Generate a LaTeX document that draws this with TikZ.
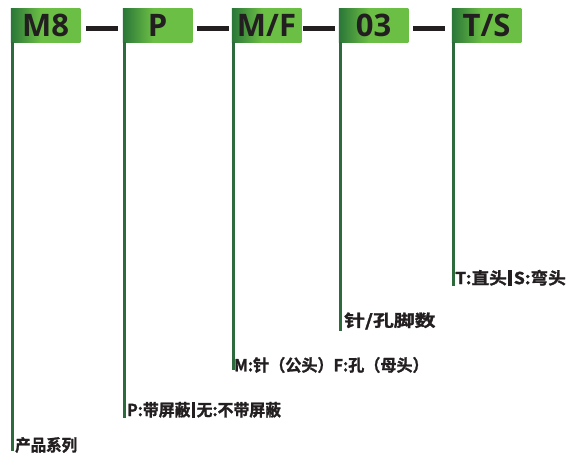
\documentclass[tikz,border=0pt]{standalone}
\usepackage{graphicx}
\usepackage{fontspec}
\setmainfont{Open Sans}
\IfFontExistsTF{Noto Sans CJK SC Bold}
  {\newfontfamily\cjk{Noto Sans CJK SC Bold}[FakeBold=1.5]}
  {\newfontfamily\cjk{Noto Sans CJK SC}[FakeBold=3]}
\definecolor{dg}{HTML}{2A7638}
\definecolor{lg}{HTML}{6CBF45}
\definecolor{ln}{HTML}{2E6B3C}
\definecolor{ink}{HTML}{231F20}
\pgfdeclarehorizontalshading{boxshade}{100bp}{color(0bp)=(dg); color(25bp)=(dg); color(47bp)=(lg); color(100bp)=(lg)}
\newcommand{\sepbar}{\kern1.5pt{\color{ink}\rule[-2pt]{3.5pt}{16pt}}\kern1.5pt}
\tikzset{
  codebox/.style={shading=boxshade, draw=none, inner sep=0pt, minimum width=69.5pt, minimum height=34pt},
  codetxt/.style={anchor=base, inner sep=0pt, text=ink, font=\fontsize{31}{31}\selectfont\bfseries},
  hy/.style={ink, line width=5pt},
  vline/.style={ln, line width=2.6pt},
  lab/.style={anchor=west, inner sep=0pt, text=ink, font=\cjk\fontsize{16.5}{17}\selectfont}
}
\begin{document}
\begin{tikzpicture}[x=1pt,y=-1pt]
\useasboundingbox (0,0) rectangle (568,458);
% boxes
\node[codebox] (box1) at (45.5,25) {};
\node[codebox] (box2) at (157.5,25) {};
\node[codebox] (box3) at (266.5,25) {};
\node[codebox] (box4) at (373.5,25) {};
\node[codebox] (box5) at (486.5,25) {};
\node[codetxt] (t1) at (45.5,36) {M8};
\node[codetxt] (t2) at (157.5,36) {P};
\node[codetxt] (t3) at (266.5,36) {M/F};
\node[codetxt] (t4) at (373.5,36) {03};
\node[codetxt] (t5) at (486.5,36) {T/S};
% hyphens
\draw[hy] (86,28) -- (118,28);
\draw[hy] (197,28) -- (229,28);
\draw[hy] (303,28) -- (335,28);
\draw[hy] (413,28) -- (445,28);
% labels
\node[lab] (lab1) at (15,445) {\scalebox{0.94}[1]{产品系列}};
\node[lab] (lab2) at (127,410) {\scalebox{0.96}[1]{P:带屏蔽\sepbar 无:不带屏蔽}};
\node[lab] (lab3) at (234,365) {\scalebox{0.975}[1]{M:针（公头）F:孔（母头）}};
\node[lab] (lab4) at (344,321) {\scalebox{1.26}[1]{针/孔脚数}};
\node[lab] (lab5) at (455,278) {\scalebox{1.07}[1]{T:直头\sepbar S:弯头}};
% end points
\coordinate (e1) at (12.3,451);
\coordinate (e2) at (124.3,418);
\coordinate (e3) at (233.3,370);
\coordinate (e4) at (340.3,331);
\coordinate (e5) at (453.3,286);
\draw[vline] (box1.south -| e1) -- (e1);
\draw[vline] (box2.south -| e2) -- (e2);
\draw[vline] (box3.south -| e3) -- (e3);
\draw[vline] (box4.south -| e4) -- (e4);
\draw[vline] (box5.south -| e5) -- (e5);
\end{tikzpicture}
\end{document}
